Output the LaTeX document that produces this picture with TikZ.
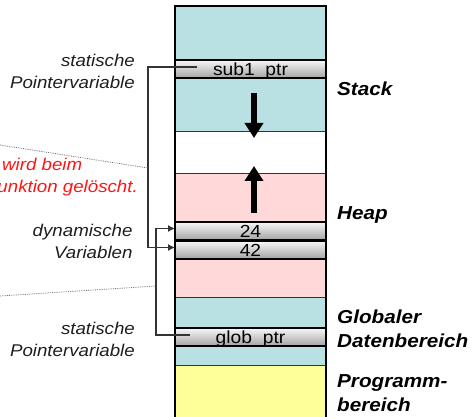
\documentclass[tikz,border=0pt]{standalone}
\usepackage{fontspec}
\setmainfont{Liberation Sans}[FakeStretch=1.1]
\usetikzlibrary{arrows.meta}
\definecolor{cyanc}{RGB}{185,224,227}
\definecolor{pinkc}{RGB}{255,217,217}
\definecolor{yellc}{RGB}{255,255,153}
\definecolor{redc}{RGB}{255,20,20}
\definecolor{txtc}{RGB}{30,30,30}
\begin{document}
\begin{tikzpicture}[x=1pt,y=-1pt,
  region/.style={draw=black!80, line width=0.9pt, minimum width=151pt, inner sep=0pt, outer sep=0pt, anchor=north west},
  bar/.style={region, draw=black, line width=1.1pt, top color=gray!6, middle color=gray!24, bottom color=gray!72, minimum height=18pt,
    text height=12.5pt, text depth=0pt, font=\fontsize{17.5}{20}\selectfont, text=black},
  leftlbl/.style={font=\itshape\fontsize{17}{22}\selectfont, text=txtc, align=right, inner sep=0pt, anchor=north east},
  sidelbl/.style={font=\bfseries\itshape\fontsize{18.8}{24.5}\selectfont, text=black, align=left, inner sep=0pt},
  redlbl/.style={font=\itshape\fontsize{17}{22}\selectfont, text=redc, inner sep=0pt},
  ptr/.style={draw=black!80, line width=1.2pt, -{Latex[length=7pt,width=7pt]}},
  growarrow/.style={line width=6pt, -{Triangle[length=15pt,width=18pt]}},
  callout/.style={draw=black!55, line width=0.8pt, densely dotted}
]
\useasboundingbox (0,0) rectangle (475,417);
\clip (0,0) rectangle (475,417);

% memory regions
\node[region, fill=cyanc, minimum height=54pt] (st1) at (175,6) {};
\node[region, fill=cyanc, minimum height=53pt] (st2) at (175,78) {};
\node[region, fill=white, minimum height=42pt] (free) at (175,131) {};
\node[region, fill=pinkc, minimum height=49pt] (hp1) at (175,173) {};
\node[region, fill=pinkc, minimum height=38pt] (hp2) at (175,259) {};
\node[region, fill=cyanc, minimum height=31pt] (gl1) at (175,297) {};
\node[region, fill=cyanc, minimum height=19pt] (gl2) at (175,346) {};
\node[region, fill=yellc, minimum height=60pt] (prog) at (175,365) {};
\node[bar] (sub1) at (175,60) {sub1\_ptr};
\node[bar] (bar24) at (175,222) {24};
\node[bar] (bar42) at (175,241) {42};
\node[bar] (glob) at (175,328) {glob\_ptr};

% outer border
\draw[line width=2pt, line cap=rect] (prog.south west) -- (st1.north west) -- (st1.north east) -- (prog.south east);

% growth arrows
\coordinate (sa) at (254,93);
\coordinate (sb) at (254,138);
\coordinate (ha) at (254,213);
\coordinate (hb) at (254,166);
\draw[growarrow] (sa) -- (sb);
\draw[growarrow] (ha) -- (hb);

% pointers
\coordinate (s1) at (197,67);
\coordinate (s1x) at (148,150);
\draw[ptr] (s1) -| (s1x) |- ([yshift=2.5pt]bar42.west);
\coordinate (g1) at (190,335);
\coordinate (g1x) at (156,280);
\draw[ptr] (g1) -| (g1x) |- ([yshift=2.5pt]bar24.west);

% callout lines
\coordinate (c1a) at (0,145);
\coordinate (c1b) at (148,168);
\coordinate (c2a) at (0,296);
\coordinate (c2b) at (156,286);
\draw[callout] (c1a) -- (c1b);
\draw[callout] (c2a) -- (c2b);

% left labels
\node[leftlbl] (l1) at (135,51.3) {\strut statische\\Pointervariable};
\node[leftlbl] (l2) at (132.7,220.6) {\strut dynamische\\Variablen};
\node[leftlbl] (l3) at (135,318.9) {\strut statische\\Pointervariable};
\node[redlbl, anchor=base west] (r1) at (2,171) {wird beim};
\node[redlbl, anchor=base east] (r2) at (138,193) {Funktion gelöscht.};

% right labels
\node[sidelbl, anchor=base west] (lst) at (337,95.7) {Stack};
\node[sidelbl, anchor=base west] (lhp) at (337,220) {Heap};
\node[sidelbl, anchor=north west] (lgl) at (337,305.9) {\strut Globaler\\Datenbereich};
\node[sidelbl, anchor=north west] (lpr) at (337,369.9) {\strut Programm-\\bereich};
\end{tikzpicture}
\end{document}
